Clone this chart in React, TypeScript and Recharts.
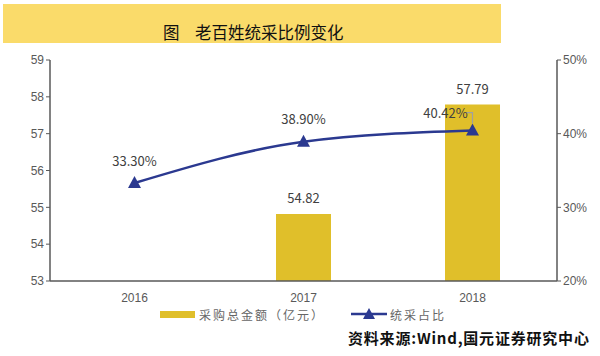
import React from "react";
import { ComposedChart, Bar, Line, XAxis, YAxis, LabelList } from "recharts";

const years = ["2016", "2017", "2018"];
const purchaseTotal: (number | null)[] = [null, 54.82, 57.79];
const unifiedShare: number[] = [33.3, 38.9, 40.42];
const leftTicks = [53, 54, 55, 56, 57, 58, 59];
const rightTicks = [20, 30, 40, 50];

const titlePrefix = "图";
const title = "老百姓统采比例变化";
const barName = "采购总金额（亿元）";
const lineName = "统采占比";
const source = "资料来源:Wind,国元证券研究中心";

const data = years.map((y, i) => ({ year: y, total: purchaseTotal[i], share: unifiedShare[i] }));

const GOLD = "#E0BF2A";
const BLUE = "#2B3990";
const AXIS = "#595959";
const CJK = '"Noto Sans CJK SC", "Noto Sans", sans-serif';

const Triangle = (props: any) => {
  const { cx, cy } = props;
  if (cx == null || cy == null) return null;
  return <path d={`M${cx},${cy - 7} L${cx + 6.5},${cy + 5} L${cx - 6.5},${cy + 5} Z`} fill={BLUE} />;
};

const ShareLabel = (props: any) => {
  const { x, y, value, index } = props;
  const txt = `${Number(value).toFixed(2)}%`;
  if (index === 2) {
    return (
      <g>
        <polyline points={`${x - 6},${y - 18} ${x},${y - 18} ${x},${y - 7}`} fill="none" stroke="#A0A0A0" strokeWidth={1.2} />
        <text x={x - 27} y={y - 18} textAnchor="middle" dominantBaseline="central" fontSize={13} fill="#404040" fontFamily={CJK}>
          {txt}
        </text>
      </g>
    );
  }
  return (
    <text x={x} y={y - 23} textAnchor="middle" dominantBaseline="central" fontSize={13} fill="#404040" fontFamily={CJK}>
      {txt}
    </text>
  );
};

const BarLabel = (props: any) => {
  const { x, y, width, value } = props;
  if (value == null) return null;
  return (
    <text x={x + width / 2} y={y - 16} textAnchor="middle" dominantBaseline="central" fontSize={13} fill="#404040" fontFamily={CJK}>
      {Number(value).toFixed(2)}
    </text>
  );
};

export default function App() {
  return (
    <div style={{ position: "fixed", left: 0, top: 0, width: 600, height: 356, background: "#fff", overflow: "hidden" }}>
      <div style={{ position: "absolute", left: 3, top: 4, width: 498, height: 39, background: "#FADB6A" }} />
      <div
        style={{
          position: "absolute",
          left: 163,
          top: 20,
          fontFamily: CJK,
          fontSize: 16.5,
          lineHeight: "24px",
          color: "#111",
          whiteSpace: "nowrap",
        }}
      >
        {titlePrefix}
      </div>
      <div
        style={{
          position: "absolute",
          left: 195,
          top: 20,
          fontFamily: CJK,
          fontSize: 16.5,
          lineHeight: "24px",
          color: "#111",
          whiteSpace: "nowrap",
        }}
      >
        {title}
      </div>
      <div style={{ position: "absolute", left: 0, top: 0 }}>
        <ComposedChart width={600} height={356} data={data} margin={{ top: 60, right: 0, bottom: 55, left: 0 }}>
          <XAxis
            dataKey="year"
            axisLine={{ stroke: AXIS, strokeWidth: 1.5 }}
            tickLine={false}
            tick={{ fill: AXIS, fontSize: 12, fontFamily: "Liberation Sans, Arial, sans-serif" }}
            height={20}
            tickMargin={6}
          />
          <YAxis
            yAxisId="left"
            domain={[53, 59]}
            ticks={leftTicks}
            width={50}
            axisLine={{ stroke: AXIS, strokeWidth: 1.5 }}
            tickLine={{ stroke: AXIS }}
            tickSize={4}
            tick={{ fill: AXIS, fontSize: 12, fontFamily: "Liberation Sans, Arial, sans-serif" }}
          />
          <YAxis
            yAxisId="right"
            orientation="right"
            domain={[20, 50]}
            ticks={rightTicks}
            width={43}
            axisLine={{ stroke: AXIS, strokeWidth: 1.5 }}
            tickLine={{ stroke: AXIS }}
            tickSize={4}
            tickFormatter={(v: number) => `${v}%`}
            tick={{ fill: AXIS, fontSize: 12, fontFamily: "Liberation Sans, Arial, sans-serif" }}
          />
          <Bar yAxisId="left" dataKey="total" fill={GOLD} barSize={55} isAnimationActive={false}>
            <LabelList dataKey="total" content={<BarLabel />} />
          </Bar>
          <Line
            yAxisId="right"
            type="monotone"
            dataKey="share"
            stroke={BLUE}
            strokeWidth={2.5}
            dot={<Triangle />}
            activeDot={false}
            isAnimationActive={false}
          >
            <LabelList dataKey="share" content={<ShareLabel />} />
          </Line>
        </ComposedChart>
      </div>
      <div style={{ position: "absolute", left: 160, top: 304, height: 20, display: "flex", alignItems: "center", fontFamily: CJK, fontSize: 12, color: "#666" }}>
        <span style={{ display: "inline-block", width: 35, height: 7, background: GOLD, marginRight: 4 }} />
        <span style={{ letterSpacing: 2 }}>{barName}</span>
        <svg width={36} height={14} style={{ marginLeft: 26, marginRight: 3 }}>
          <line x1={0} y1={7} x2={36} y2={7} stroke={BLUE} strokeWidth={2.5} />
          <path d="M18,1 L24,12 L12,12 Z" fill={BLUE} />
        </svg>
        <span style={{ letterSpacing: 2 }}>{lineName}</span>
      </div>
      <div
        style={{
          position: "absolute",
          left: 348,
          top: 327,
          fontFamily: CJK,
          fontWeight: 700,
          fontSize: 15,
          letterSpacing: 0.8,
          lineHeight: "22px",
          color: "#111",
          whiteSpace: "nowrap",
        }}
      >
        {source}
      </div>
    </div>
  );
}
